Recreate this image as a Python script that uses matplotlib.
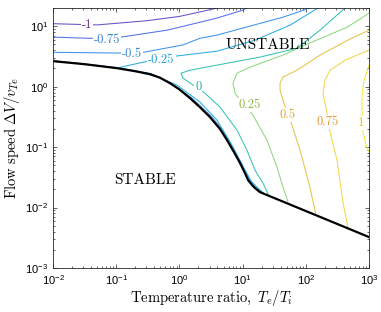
import matplotlib
matplotlib.use('Agg')
import matplotlib.pyplot as plt

plt.rcParams['font.family'] = 'Liberation Sans'
plt.rcParams['mathtext.fontset'] = 'cm'

# stability boundary (black)
boundary_x = [0.01, 0.032, 0.103, 0.2, 0.343, 0.49, 0.71, 1.0, 1.47, 2.1, 3.05, 4.39, 5.66,
              7.31, 9.1, 10.9, 12.2, 14.1, 15.7, 18.8, 1000]
boundary_y = [2.64, 2.35, 2.02, 1.8, 1.61, 1.41, 1.14, 0.9, 0.646, 0.46, 0.313, 0.199, 0.131,
              0.0826, 0.0545, 0.0372, 0.0285, 0.0236, 0.021, 0.018, 0.00325]

# contour levels
levels = [-1, -0.75, -0.5, -0.25, 0, 0.25, 0.5, 0.75, 1]

c_m100_x = [0.01, 0.05, 0.3, 1.0, 2.0, 4.0]
c_m100_y = [11.0, 10.5, 12.3, 14.5, 17.0, 20.0]

c_m075_x = [0.01, 0.038, 0.12, 0.64, 2.1, 3.9, 10.0, 11.5]
c_m075_y = [6.6, 6.3, 6.6, 8.6, 11.6, 13.6, 18.4, 20.0]

c_m050_x = [0.01, 0.1, 0.27, 1.14, 2.1, 3.9, 10.0, 43.5, 116]
c_m050_y = [3.7, 3.6, 3.7, 4.9, 6.3, 7.1, 9.3, 14.1, 20.0]
# -0.5 branch running along the boundary
c_m050b_x = [0.01, 0.103, 0.343, 0.73, 1.55, 3.25, 4.65, 6.0, 7.7, 9.6, 11.5, 12.9, 14.8, 16.6, 19.8]
c_m050b_y = [2.7, 2.07, 1.65, 1.16, 0.655, 0.318, 0.2, 0.132, 0.083, 0.0545, 0.0372, 0.0285,
             0.0236, 0.021, 0.0178]

c_m025_x = [156, 56.2, 15.7, 3.94, 0.851, 0.318, 0.138, 0.11, 0.2, 0.45, 0.916, 2.12, 3.94,
            7.05, 10.1, 14.1, 17.5, 21.7]
c_m025_y = [20.0, 10.4, 5.87, 3.86, 3.19, 2.64, 2.18, 2.06, 1.8, 1.45, 1.06, 0.555, 0.279,
            0.1, 0.0467, 0.0264, 0.021, 0.0171]

c_000_x = [417, 168, 72.6, 18.8, 5.66, 1.47, 1.06, 1.14, 2.54, 4.39, 8.15, 11.7, 15.7, 21.0, 25.2]
c_000_y = [20.0, 8.6, 4.32, 3.08, 2.44, 1.87, 1.67, 1.38, 0.78, 0.458, 0.191, 0.089, 0.0417,
           0.0254, 0.017]

c_025_x = [1000, 449, 81, 43.5, 13.1, 8.15, 7.05, 7.6, 9.1, 14.6, 24.3, 35, 43.5, 52.2]
c_025_y = [16.4, 9.6, 4.5, 3.32, 2.1, 1.67, 1.14, 0.78, 0.6, 0.338, 0.13, 0.0467, 0.0218, 0.0125]

c_050_x = [1000, 466, 168, 72.6, 43.5, 39.1, 39.1, 43.5, 52.2, 60.5, 81, 116, 145]
c_050_y = [8.6, 5.9, 3.32, 1.87, 1.44, 1.14, 0.875, 0.6, 0.338, 0.231, 0.089, 0.0218, 0.0075]

c_075_x = [1000, 417, 242, 201, 187, 209, 225, 242, 312, 388, 466]
c_075_y = [4.0, 2.74, 1.87, 1.28, 0.78, 0.44, 0.3, 0.177, 0.061, 0.0119, 0.0046]

c_100_x = [1000, 834, 774, 774, 790, 803, 897, 1000]
c_100_y = [2.27, 1.28, 0.724, 0.409, 0.25, 0.177, 0.108, 0.0826]

label_x = [0.035, 0.071, 0.178, 0.52, 2.0, 13.1, 52, 225, 760]
label_y = [10.5, 6.0, 3.5, 2.75, 0.98, 0.49, 0.34, 0.26, 0.25]
label_txt = ['-1', '-0.75', '-0.5', '-0.25', '0', '0.25', '0.5', '0.75', '1']

line_colors = ['#6a4fc8', '#5072e6', '#3e92ee', '#2aaee0', '#34c4b2', '#8fd680',
               '#e6c24a', '#f2d64a', '#eeee30']
text_colors = ['#5b2d83', '#2f80d0', '#2f86d2', '#20a0d6', '#22aaa0', '#8cb842',
               '#e2a22a', '#e8962c', '#dcc800']

curves = [
    (c_m100_x, c_m100_y, 0), (c_m075_x, c_m075_y, 1), (c_m050_x, c_m050_y, 2),
    (c_m050b_x, c_m050b_y, 2), (c_m025_x, c_m025_y, 3), (c_000_x, c_000_y, 4),
    (c_025_x, c_025_y, 5), (c_050_x, c_050_y, 6), (c_075_x, c_075_y, 7),
    (c_100_x, c_100_y, 8),
]

fig = plt.figure(figsize=(3.81, 3.12), dpi=100)
ax = fig.add_axes([53/381, 44/312, 316/381, 260/312])

for cx, cy, k in curves:
    ax.plot(cx, cy, color=line_colors[k], lw=0.75)

for tx, ty, s, k in zip(label_x, label_y, label_txt, range(9)):
    ax.text(tx, ty, s, color=text_colors[k], fontsize=9, family='cmr10',
            ha='center', va='center',
            bbox=dict(facecolor='white', edgecolor='none', pad=0.6))

ax.plot(boundary_x, boundary_y, color='black', lw=1.6)

ax.text(25.2, 4.85, 'UNSTABLE', fontsize=11, family='cmr10', ha='center', va='center')
ax.text(0.286, 0.0285, 'STABLE', fontsize=11, family='cmr10', ha='center', va='center')

ax.set_xscale('log')
ax.set_yscale('log')
ax.set_xlim(1e-2, 1e3)
ax.set_ylim(1e-3, 20)
ax.set_xticks([1e-2, 1e-1, 1e0, 1e1, 1e2, 1e3])
ax.set_yticks([1e-3, 1e-2, 1e-1, 1e0, 1e1])
ax.tick_params(which='both', direction='in', top=True, right=True, labelsize=8,
               color='#262626', width=0.5)
ax.tick_params(which='major', length=3)
ax.tick_params(which='minor', length=1.6)
for pos in ['left', 'right', 'top', 'bottom']:
    ax.spines[pos].set_color('#262626')
    ax.spines[pos].set_linewidth(0.6)

ax.set_xlabel(r'$\mathrm{Temperature\ ratio,}\ T_e/T_i$', fontsize=10.5, labelpad=1)
ax.set_ylabel(r'$\mathrm{Flow\ speed}\ \Delta V/v_{Te}$', fontsize=10.5, labelpad=2)

fig.savefig('out.png', dpi=100)
